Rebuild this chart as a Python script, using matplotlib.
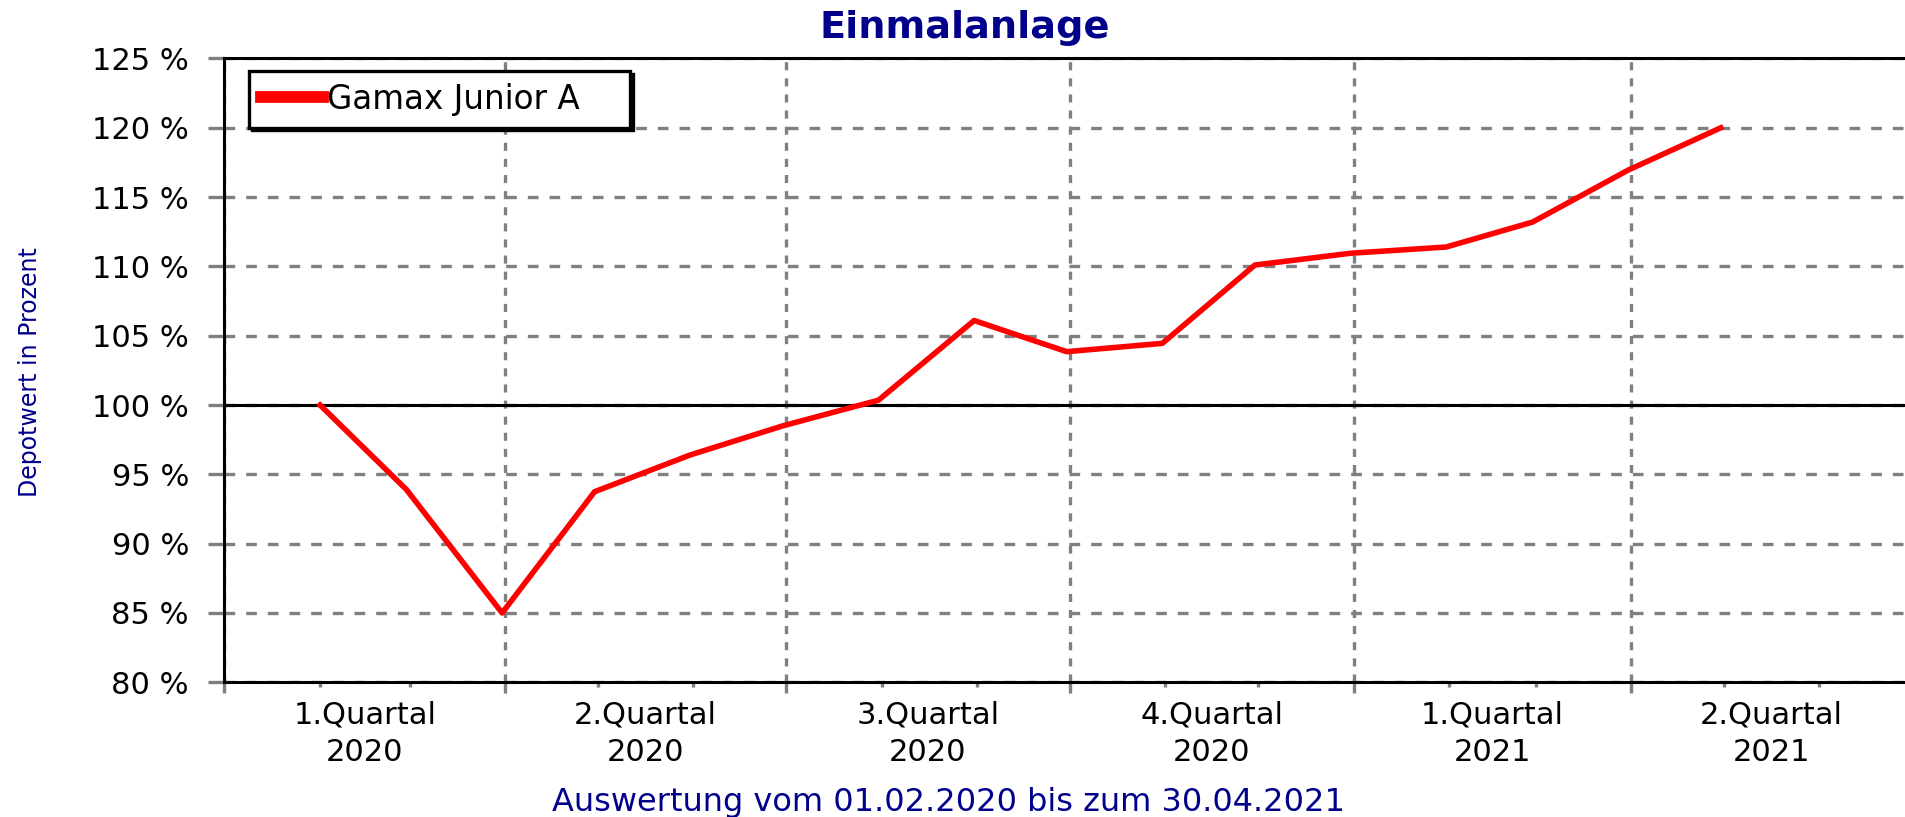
import matplotlib
matplotlib.use("Agg")
import matplotlib.pyplot as plt
import matplotlib.dates as mdates
import numpy as np

plt.rcParams["font.family"] = ["DejaVu Sans"]
plt.rcParams["lines.scale_dashes"] = False

# Monatswerte (Depotwert in %)
dates = np.array([
    "2020-02-01", "2020-02-29", "2020-03-31", "2020-04-30", "2020-05-31",
    "2020-06-30", "2020-07-31", "2020-08-31", "2020-09-30", "2020-10-31",
    "2020-11-30", "2020-12-31", "2021-01-31", "2021-02-28", "2021-03-31",
    "2021-04-30",
], dtype="datetime64[D]")
values = [100.0, 93.9, 85.0, 93.75, 96.4, 98.5, 100.35, 106.1, 103.85,
          104.45, 110.1, 110.95, 111.4, 113.2, 116.95, 120.0]

quarter_starts = np.array([
    "2020-01-01", "2020-04-01", "2020-07-01", "2020-10-01",
    "2021-01-01", "2021-04-01", "2021-07-01",
], dtype="datetime64[D]")
quarter_names = ["1.Quartal", "2.Quartal", "3.Quartal", "4.Quartal",
                 "1.Quartal", "2.Quartal"]
quarter_years = ["2020", "2020", "2020", "2020", "2021", "2021"]
month_ticks = np.arange("2020-01", "2021-08", dtype="datetime64[M]").astype("datetime64[D]")
y_ticks = list(range(80, 126, 5))

navy = "#00008B"
grey = "#808080"

fig = plt.figure(figsize=(19.05, 8.17), dpi=100)
ax = fig.add_axes([0.1178, 0.1649, 0.8859, 0.7635])

ax.plot(dates, values, color="red", lw=4, label="Gamax Junior A", zorder=4)
ax.axhline(100, color="black", lw=2.2, zorder=3)

ax.set_xlim(quarter_starts[0], quarter_starts[-1])
ax.set_ylim(80, 125)
ax.set_yticks(y_ticks)
ax.set_yticklabels([f"{v} %" for v in y_ticks])
ax.set_xticks(quarter_starts)
ax.set_xticklabels([])
ax.set_xticks(month_ticks, minor=True)

ax.tick_params(axis="y", length=11.5, width=2.4, color=grey, pad=14, labelsize=22)
ax.tick_params(axis="x", which="major", length=8, width=2.4, color=grey)
ax.tick_params(axis="x", which="minor", length=3.5, width=2.4, color=grey)
ax.grid(axis="y", color=grey, lw=2.4, linestyle=(0, (7.7, 7.9)))
ax.grid(axis="x", which="major", color=grey, lw=2.4, linestyle=(0, (5.8, 5.8)))
ax.set_axisbelow(True)

for side in ["left", "bottom", "top"]:
    ax.spines[side].set_color("black")
    ax.spines[side].set_linewidth(2.2)
ax.spines["right"].set_visible(False)

qnum = mdates.date2num(quarter_starts)
mids = (qnum[:-1] + qnum[1:]) / 2
for m, name, yr in zip(mids, quarter_names, quarter_years):
    ax.text(m, -0.0668, name, transform=ax.get_xaxis_transform(),
            ha="center", va="baseline", fontsize=22)
    ax.text(m, -0.1262, yr, transform=ax.get_xaxis_transform(),
            ha="center", va="baseline", fontsize=22)

leg = ax.legend(loc="upper left",
                bbox_to_anchor=(249 / 1905, 1 - 133 / 817, 381 / 1905, 62 / 817),
                bbox_transform=fig.transFigure, mode="expand", borderaxespad=0,
                fontsize=23.5, fancybox=False, shadow={"color": "black", "alpha": 1},
                handlelength=1.9, handletextpad=0.12, borderpad=0.36)
leg.get_frame().set_edgecolor("black")
leg.get_frame().set_linewidth(2.4)
for line in leg.get_lines():
    line.set_linewidth(8.5)

fig.text(965 / 1905, 1 - 38.5 / 817, "Einmalanlage", ha="center", va="baseline",
         fontsize=27.5, fontweight="bold", color=navy)
fig.text(30 / 1905, 1 - 372 / 817, "Depotwert in Prozent", rotation=90,
         ha="center", va="center", fontsize=17, color=navy)
fig.text(948 / 1905, 1 - 811 / 817, "Auswertung vom 01.02.2020 bis zum 30.04.2021",
         ha="center", va="baseline", fontsize=23, color=navy)

fig.savefig("out.png", dpi=100)
